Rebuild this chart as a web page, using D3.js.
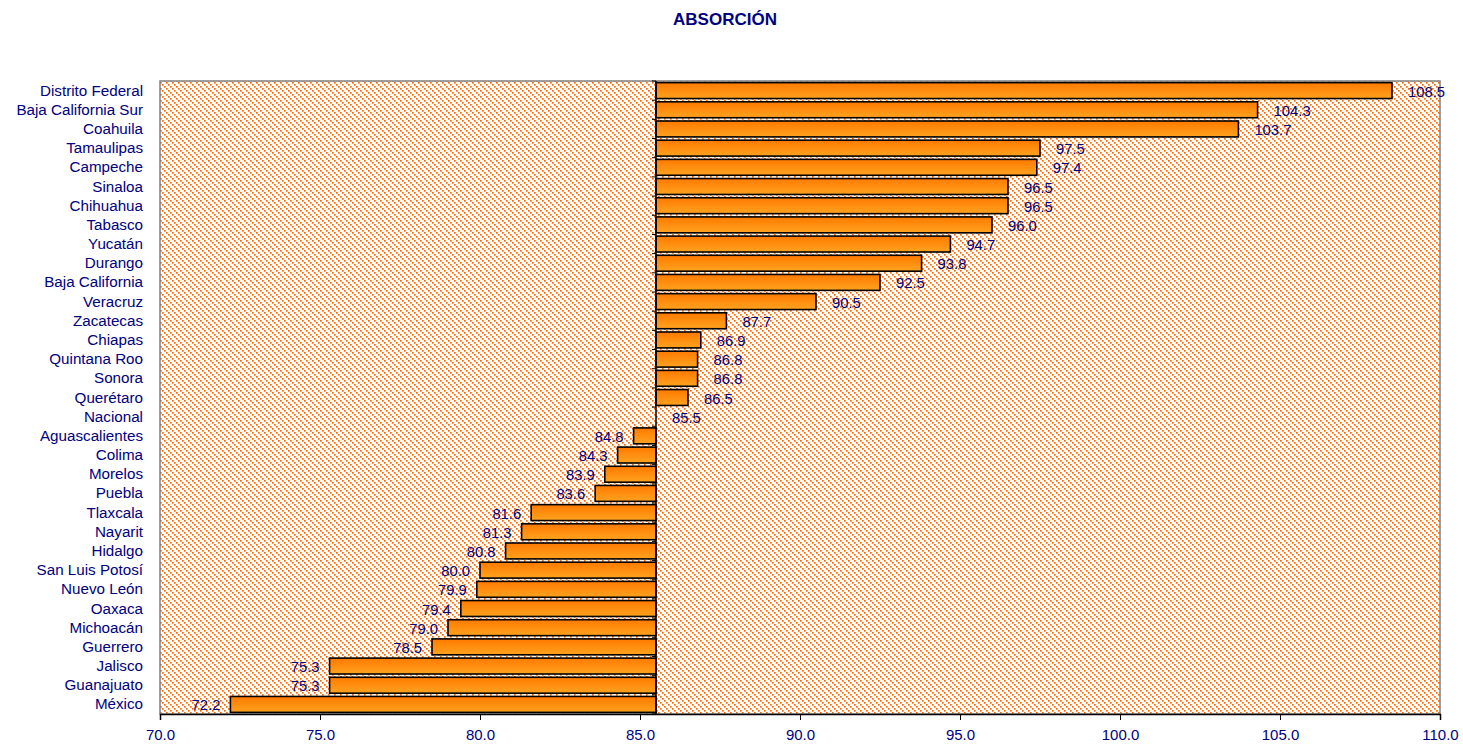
<!DOCTYPE html>
<html>
<head>
<meta charset="utf-8">
<script src="https://cdn.jsdelivr.net/npm/d3@7"></script>
<style>
  html, body { margin: 0; padding: 0; background: #fff; }
  svg { display: block; }
  text { font-family: "Liberation Sans", Arial, sans-serif; }
</style>
</head>
<body>
<svg id="chart" width="1463" height="745"></svg>
<script>
// Absorción por entidad federativa
const estados = [
  "Distrito Federal", "Baja California Sur", "Coahuila", "Tamaulipas", "Campeche",
  "Sinaloa", "Chihuahua", "Tabasco", "Yucatán", "Durango", "Baja California",
  "Veracruz", "Zacatecas", "Chiapas", "Quintana Roo", "Sonora", "Querétaro",
  "Nacional", "Aguascalientes", "Colima", "Morelos", "Puebla", "Tlaxcala",
  "Nayarit", "Hidalgo", "San Luis Potosí", "Nuevo León", "Oaxaca", "Michoacán",
  "Guerrero", "Jalisco", "Guanajuato", "México"
];
const absorcion = [
  108.5, 104.3, 103.7, 97.5, 97.4,
  96.5, 96.5, 96.0, 94.7, 93.8, 92.5,
  90.5, 87.7, 86.9, 86.8, 86.8, 86.5,
  85.5, 84.8, 84.3, 83.9, 83.6, 81.6,
  81.3, 80.8, 80.0, 79.9, 79.4, 79.0,
  78.5, 75.3, 75.3, 72.2
];
const xTicks = [70, 75, 80, 85, 90, 95, 100, 105, 110];
const cruce = 85.5;   // value where the category axis crosses
const titulo = "ABSORCIÓN";

const datos = estados.map((e, i) => ({ estado: e, valor: absorcion[i] }));

const svg = d3.select("#chart");
const margin = { left: 160, right: 23, top: 81, bottom: 31 };
const W = 1463, H = 745;
const innerW = W - margin.left - margin.right;
const innerH = H - margin.top - margin.bottom;
const azul = "#000080";
const fuente = 15.2;

const x = d3.scaleLinear().domain([70, 110]).range([margin.left, margin.left + innerW]);
const y = d3.scaleBand().domain(estados).range([margin.top, margin.top + innerH])
  .paddingInner(0.17).paddingOuter(0.085);

const defs = svg.append("defs");

// hatched background fill: dotted orange downward diagonals on white
const pat = defs.append("pattern")
  .attr("id", "rayado")
  .attr("patternUnits", "userSpaceOnUse")
  .attr("width", 6).attr("height", 6);
pat.append("rect").attr("width", 6).attr("height", 6).attr("fill", "#fff");
pat.selectAll("rect.p").data([0, 2, 4]).join("rect")
  .attr("class", "p")
  .attr("x", d => d).attr("y", d => d)
  .attr("width", 1.7).attr("height", 1.7)
  .attr("fill", "#ff6600");

// bar fill gradient
const grad = defs.append("linearGradient")
  .attr("id", "barra").attr("x1", 0).attr("y1", 0).attr("x2", 0).attr("y2", 1);
grad.append("stop").attr("offset", "0%").attr("stop-color", "#ff7a00");
grad.append("stop").attr("offset", "100%").attr("stop-color", "#ffa21f");

// plot area
svg.append("rect")
  .attr("x", margin.left).attr("y", margin.top)
  .attr("width", innerW).attr("height", innerH)
  .attr("fill", "url(#rayado)")
  .attr("stroke", "#808080").attr("stroke-width", 1.5);

// title
svg.append("text")
  .attr("x", 725).attr("y", 25)
  .attr("text-anchor", "middle")
  .attr("font-size", 17).attr("font-weight", "bold")
  .attr("fill", azul)
  .text(titulo);

// bars, drawn outward from the crossing value
svg.append("g").selectAll("rect").data(datos).join("rect")
  .attr("x", d => x(Math.min(d.valor, cruce)))
  .attr("y", d => y(d.estado))
  .attr("width", d => Math.abs(x(d.valor) - x(cruce)))
  .attr("height", y.bandwidth())
  .attr("fill", "url(#barra)")
  .attr("stroke", "#000").attr("stroke-width", 1.6);

// value labels at the outside end of each bar
svg.append("g").selectAll("text").data(datos).join("text")
  .attr("x", d => d.valor >= cruce ? x(d.valor) + 16 : x(d.valor) - 10)
  .attr("y", d => y(d.estado) + y.bandwidth() / 2 + 6)
  .attr("text-anchor", d => d.valor >= cruce ? "start" : "end")
  .attr("font-size", 14.8)
  .attr("fill", azul)
  .text(d => d.valor.toFixed(1));

// category axis at the crossing value, ticks at band boundaries
const ejeY = svg.append("g");
ejeY.append("line")
  .attr("x1", x(cruce)).attr("x2", x(cruce))
  .attr("y1", margin.top).attr("y2", margin.top + innerH)
  .attr("stroke", "#000").attr("stroke-width", 1.5);
ejeY.selectAll("line.t").data(d3.range(estados.length + 1)).join("line")
  .attr("class", "t")
  .attr("x1", x(cruce) - 4).attr("x2", x(cruce))
  .attr("y1", i => margin.top + i * innerH / estados.length)
  .attr("y2", i => margin.top + i * innerH / estados.length)
  .attr("stroke", "#000").attr("stroke-width", 1);

// category labels on the left
svg.append("g").selectAll("text").data(estados).join("text")
  .attr("x", 143)
  .attr("y", d => y(d) + y.bandwidth() / 2 + 5)
  .attr("text-anchor", "end")
  .attr("font-size", fuente)
  .attr("fill", azul)
  .text(d => d);

// value axis along the bottom
const ejeX = svg.append("g")
  .attr("transform", `translate(0,${margin.top + innerH})`)
  .call(d3.axisBottom(x).tickValues(xTicks).tickSize(6).tickPadding(9).tickFormat(d3.format(".1f")));
ejeX.select(".domain").attr("stroke", "#000").attr("stroke-width", 1.5);
ejeX.selectAll(".tick line").attr("stroke", "#000");
ejeX.selectAll(".tick text")
  .attr("font-size", 15)
  .attr("font-family", "'Liberation Sans', Arial, sans-serif")
  .attr("fill", azul);
</script>
</body>
</html>
